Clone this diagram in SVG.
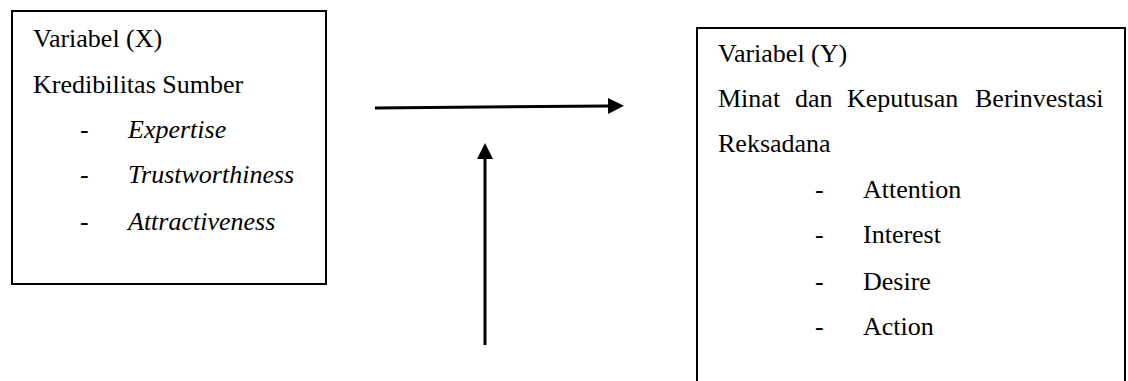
<svg xmlns="http://www.w3.org/2000/svg" width="1128" height="381" viewBox="0 0 1128 381">
<style>
.box{fill:#fff;stroke:#000;stroke-width:2}
text{font-family:'Liberation Serif',Tinos,'Times New Roman',Times,serif;font-size:26px;fill:#000}
.i{font-style:italic}
.c{stroke:#000;stroke-width:3;fill:none}
</style>
<defs>
<marker id="ah" markerWidth="16" markerHeight="16" refX="0" refY="8" orient="auto" markerUnits="userSpaceOnUse" viewBox="0 0 16 16">
<path d="M0,0 L16,8 L0,16 Z" fill="#000"/>
</marker>
</defs>
<rect width="1128" height="381" fill="#fff"/>
<g id="nodeX" font-family="Liberation Serif, serif">
<rect class="box" x="12" y="11" width="314" height="273"/>
<text x="33" y="47">Variabel (X)</text>
<text x="33" y="93">Kredibilitas Sumber</text>
<text x="80" y="138">-</text>
<text class="i" x="128" y="138">Expertise</text>
<text x="80" y="183">-</text>
<text class="i" x="128" y="183">Trustworthiness</text>
<text x="80" y="230">-</text>
<text class="i" x="128" y="230">Attractiveness</text>
</g>
<g id="nodeY" font-family="Liberation Serif, serif">
<path class="box" d="M697,390 L697,28 L1125,28 L1125,390"/>
<text x="718" y="62">Variabel (Y)</text>
<text x="718" y="107">Minat</text>
<text x="795" y="107">dan</text>
<text x="847" y="107">Keputusan</text>
<text x="975" y="107">Berinvestasi</text>
<text x="718" y="152">Reksadana</text>
<text x="815" y="198">-</text>
<text x="863" y="198">Attention</text>
<text x="815" y="243">-</text>
<text x="863" y="243">Interest</text>
<text x="815" y="290">-</text>
<text x="863" y="290">Desire</text>
<text x="815" y="335">-</text>
<text x="863" y="335">Action</text>
</g>
<g id="connectors">
<line class="c" x1="375" y1="108" x2="608" y2="106" marker-end="url(#ah)"/>
<line class="c" x1="485" y1="345" x2="485" y2="159" marker-end="url(#ah)"/>
</g>
</svg>
